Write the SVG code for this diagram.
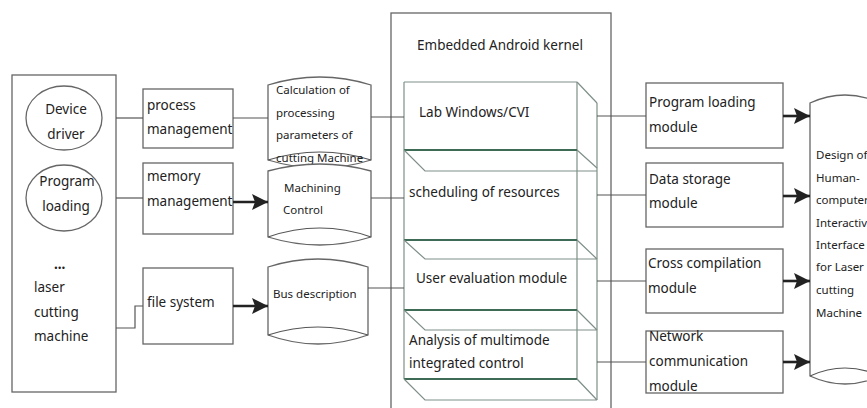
<svg xmlns="http://www.w3.org/2000/svg" width="867" height="408" viewBox="0 0 867 408">
<style>
  .bx{fill:#fff;stroke:#666;stroke-width:1.3}
  .ln{fill:none;stroke:#555;stroke-width:1.2}
  .ar{fill:none;stroke:#222;stroke-width:2.6}
  .gr{fill:none;stroke:#3d6b55;stroke-width:1.8}
  .lt{fill:none;stroke:#7f8f88;stroke-width:1.2}
  text{font-family:"Noto Sans","Open Sans","Liberation Sans",sans-serif;fill:#222;font-size:13.5px}
  .s{font-size:11.5px}
</style>
<defs>
  <marker id="ah" markerUnits="userSpaceOnUse" markerWidth="18" markerHeight="18" refX="16" refY="9" orient="auto">
    <path d="M0,1 L16,9 L0,17 L3,9 z" fill="#222"/>
  </marker>
</defs>
<rect width="867" height="408" fill="#fff"/>

<g id="left-panel">
  <rect class="bx" x="12" y="75" width="104" height="317"/>
  <ellipse class="bx" cx="64" cy="118" rx="38" ry="32"/>
  <text x="66" y="114" text-anchor="middle">Device</text>
  <text x="66" y="139" text-anchor="middle">driver</text>
  <ellipse class="bx" cx="64" cy="198" rx="38" ry="33"/>
  <text x="67" y="186" text-anchor="middle">Program</text>
  <text x="66" y="211" text-anchor="middle">loading</text>
  <text x="54" y="269" style="font-weight:bold">...</text>
  <text x="34" y="292">laser</text>
  <text x="34" y="317">cutting</text>
  <text x="34" y="341">machine</text>
</g>

<g id="process-management">
  <rect class="bx" x="143" y="89" width="90" height="59"/>
  <text x="147" y="110">process</text>
  <text x="147" y="134">management</text>
</g>
<g id="memory-management">
  <rect class="bx" x="143" y="163" width="90" height="71"/>
  <text x="147" y="181">memory</text>
  <text x="147" y="206">management</text>
</g>
<g id="file-system">
  <rect class="bx" x="143" y="268" width="90" height="76"/>
  <text x="147" y="307">file system</text>
</g>

<g id="calculation">
  <path class="bx" d="M268,85 Q320,69 371,85 L371,160 Q320,176 268,160 Z"/>
  <path class="ln" d="M268,160 Q320,144 371,160"/>
  <text class="s" x="276" y="94">Calculation of</text>
  <text class="s" x="276" y="117">processing</text>
  <text class="s" x="276" y="139">parameters of</text>
  <text class="s" x="276" y="162">cutting Machine</text>
</g>
<g id="machining-control">
  <path class="bx" d="M268,171 Q320,157 371,171 L371,237 Q320,253 268,237 Z"/>
  <path class="ln" d="M268,237 Q320,219 371,237"/>
  <text class="s" x="284" y="192">Machining</text>
  <text class="s" x="283" y="214">Control</text>
</g>
<g id="bus-description">
  <path class="bx" d="M268,267 Q318,251 368,267 L368,335 Q318,353 268,335 Z"/>
  <path class="ln" d="M268,335 Q318,319 368,335"/>
  <text class="s" x="273" y="298">Bus description</text>
</g>

<g id="embedded-kernel">
  <rect class="bx" x="391" y="13" width="220" height="400"/>
  <text x="417" y="50">Embedded Android kernel</text>
  <line class="lt" x1="404" y1="82" x2="404" y2="379"/>
  <line class="lt" x1="577" y1="82" x2="577" y2="379"/>
  <line class="lt" x1="597" y1="103" x2="597" y2="400"/>
  <line class="lt" x1="404" y1="82" x2="577" y2="82"/>
  <line class="lt" x1="577" y1="82" x2="597" y2="103"/>
</g>
<g id="lab-windows">
  <text x="419" y="117">Lab Windows/CVI</text>
</g>
<g id="scheduling">
  <line class="gr" x1="404" y1="150" x2="577" y2="150"/>
  <path class="lt" d="M404,150 L425,171 L597,171 M577,150 L597,168"/>
  <text x="409" y="197">scheduling of resources</text>
</g>
<g id="user-evaluation">
  <line class="gr" x1="404" y1="240" x2="577" y2="240"/>
  <path class="lt" d="M404,240 L425,259 L597,259 M577,240 L597,259"/>
  <text x="416" y="283">User evaluation module</text>
</g>
<g id="analysis">
  <line class="gr" x1="404" y1="310" x2="577" y2="310"/>
  <path class="lt" d="M404,310 L425,330 L597,330 M577,310 L597,330"/>
  <text x="409" y="345">Analysis of multimode</text>
  <text x="409" y="368">integrated control</text>
</g>
<g id="bottom-slab">
  <line class="gr" x1="404" y1="379" x2="577" y2="379"/>
  <path class="lt" d="M404,379 L425,400 L597,400 M577,379 L597,400"/>
</g>

<g id="program-loading-module">
  <rect class="bx" x="646" y="83" width="137" height="65"/>
  <text x="649" y="107">Program loading</text>
  <text x="649" y="132">module</text>
</g>
<g id="data-storage-module">
  <rect class="bx" x="646" y="163" width="137" height="64"/>
  <text x="649" y="184">Data storage</text>
  <text x="649" y="208">module</text>
</g>
<g id="cross-compilation-module">
  <rect class="bx" x="646" y="249" width="137" height="64"/>
  <text x="648" y="268">Cross compilation</text>
  <text x="648" y="293">module</text>
</g>
<g id="network-module">
  <rect class="bx" x="646" y="331" width="137" height="62"/>
  <text x="649" y="341">Network</text>
  <text x="649" y="366">communication</text>
  <text x="649" y="391">module</text>
</g>

<g id="hci-design">
  <path class="bx" d="M810,103 Q845,87 880,103 L880,376 Q845,392 810,376 Z"/>
  <path class="ln" d="M810,376 Q845,360 880,376"/>
  <text class="s" x="816" y="159">Design of</text>
  <text class="s" x="816" y="182">Human-</text>
  <text class="s" x="816" y="204">computer</text>
  <text class="s" x="816" y="227">Interactive</text>
  <text class="s" x="816" y="249">Interface</text>
  <text class="s" x="816" y="271">for Laser</text>
  <text class="s" x="816" y="294">cutting</text>
  <text class="s" x="816" y="317">Machine</text>
</g>

<g id="connectors">
  <line class="ln" x1="116" y1="118" x2="143" y2="118"/>
  <line class="ln" x1="116" y1="198" x2="143" y2="198"/>
  <path class="ln" d="M116,328 L135,328 L135,306 L143,306"/>
  <line class="ln" x1="233" y1="118" x2="268" y2="118"/>
  <line class="ar" x1="233" y1="202" x2="268" y2="202" marker-end="url(#ah)"/>
  <line class="ar" x1="233" y1="306" x2="268" y2="306" marker-end="url(#ah)"/>
  <line class="ln" x1="371" y1="117" x2="404" y2="117"/>
  <line class="ln" x1="371" y1="198" x2="404" y2="198"/>
  <line class="ln" x1="368" y1="288" x2="404" y2="288"/>
  <line class="ln" x1="597" y1="116" x2="646" y2="116"/>
  <line class="ln" x1="597" y1="195" x2="646" y2="195"/>
  <line class="ln" x1="597" y1="281" x2="646" y2="281"/>
  <line class="ln" x1="597" y1="362" x2="646" y2="362"/>
  <line class="ar" x1="783" y1="116" x2="810" y2="116" marker-end="url(#ah)"/>
  <line class="ar" x1="783" y1="196" x2="810" y2="196" marker-end="url(#ah)"/>
  <line class="ar" x1="783" y1="281" x2="810" y2="281" marker-end="url(#ah)"/>
  <line class="ar" x1="783" y1="362" x2="810" y2="362" marker-end="url(#ah)"/>
</g>
</svg>
